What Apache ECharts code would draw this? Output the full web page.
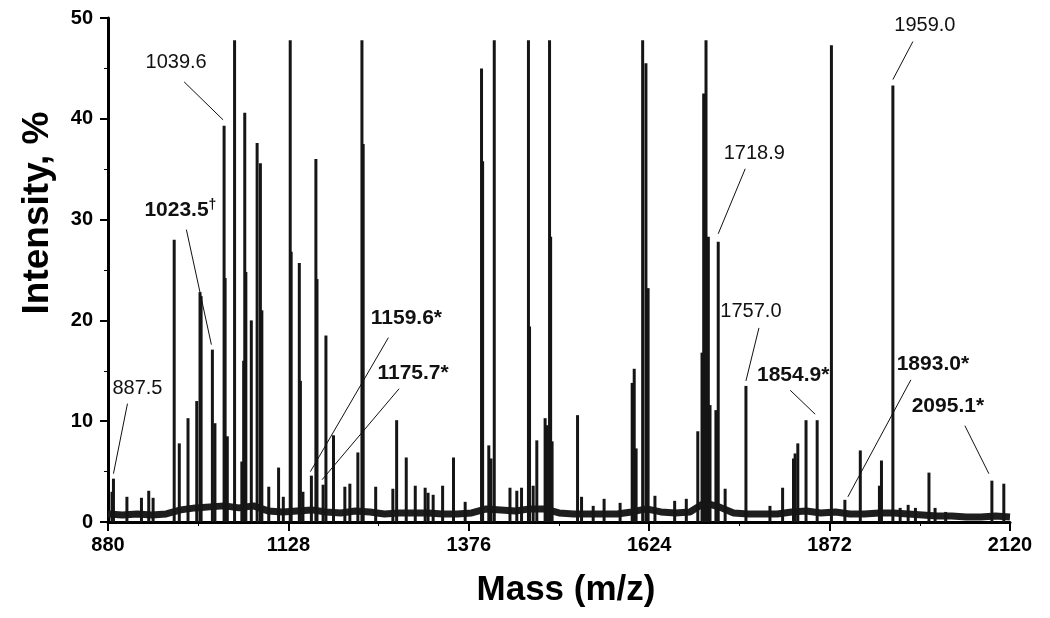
<!DOCTYPE html>
<html><head><meta charset="utf-8">
<script src="https://cdn.jsdelivr.net/npm/echarts@6/dist/echarts.min.js"></script>
<style>html,body{margin:0;padding:0;background:#fff}#c{width:1050px;height:618px}</style>
</head><body><div id="c"></div>
<script>
// ---- tick labels ----
const massTicks = [880, 1128, 1376, 1624, 1872, 2120];
const intensityTicks = [0, 10, 20, 30, 40, 50];

// ---- peaks (m/z, intensity %) ----
const peakMass = [
  885.5, 887.5, 906, 926, 936, 942, 971, 978, 990, 1002, 1006.5, 1008, 1023.5, 1027,
  1039.6, 1041, 1044, 1054, 1064, 1066.5, 1068, 1069.5, 1077, 1085, 1089.5, 1091.5,
  1101, 1114.5, 1121, 1130.5, 1131.8, 1143, 1144.5, 1148, 1159.6, 1165.8, 1167.3,
  1175.7, 1179.6, 1190, 1205.6, 1212.5, 1223.5, 1229.1, 1230.8, 1248, 1271.6, 1276.8,
  1290, 1302.4, 1316, 1320, 1327, 1340, 1355, 1371, 1393.5, 1395, 1403.5, 1406.5,
  1411, 1432.6, 1442, 1448.5, 1458, 1459.5, 1464.5, 1469.5, 1480.9, 1483.6, 1487,
  1488.5, 1490.5, 1525.5, 1531, 1547, 1562, 1584, 1600.6, 1603.4, 1606, 1615, 1619.5,
  1622.5, 1631.9, 1659, 1675, 1690.8, 1696.6, 1698.9, 1702.1, 1705.3, 1707.6, 1715.7,
  1718.9, 1728.4, 1757.0, 1790, 1807.4, 1822.4, 1824.6, 1828.3, 1839.6, 1854.9, 1874.5,
  1893.0, 1914.2, 1940.5, 1943.3, 1959.0, 1969, 1980, 1990, 2008.6, 2017, 2031.6,
  2095.1, 2111.5
];
const peakIntensity = [
  3.0, 4.3, 2.5, 2.4, 3.1, 2.4, 28.0, 7.8, 10.3, 12.0, 22.8, 22.4, 17.1, 9.8,
  39.3, 24.2, 8.5, 47.8, 6.0, 16.0, 40.6, 24.8, 20.0, 37.6, 35.6, 21.0,
  3.5, 5.4, 2.5, 47.8, 26.8, 25.7, 14.0, 3.0, 4.6, 36.0, 24.1,
  3.7, 18.5, 8.6, 3.5, 3.8, 6.9, 47.8, 37.5, 3.5, 3.3, 10.1,
  6.4, 3.6, 3.4, 2.9, 2.7, 3.6, 6.4, 2.0, 45.0, 35.8, 7.6, 6.3,
  47.8, 3.4, 3.1, 3.4, 47.8, 19.4, 3.6, 8.1, 10.3, 9.6, 47.8,
  28.3, 8.0, 10.6, 2.5, 1.6, 2.3, 1.9, 13.8, 15.2, 7.3, 47.8, 45.5,
  23.2, 2.6, 2.1, 2.3, 9.0, 16.8, 42.5, 47.8, 28.3, 11.6, 11.1,
  27.8, 3.3, 13.5, 1.6, 3.4, 6.3, 6.8, 7.8, 10.1, 10.1, 47.3,
  2.2, 7.1, 3.6, 6.1, 43.3, 1.4, 1.7, 1.4, 4.9, 1.4, 1.0,
  4.1, 3.8
];

// ---- baseline noise level (m/z, intensity %) ----
const baselineMass = [
  880, 900, 920, 940, 960, 980, 1000, 1020, 1040, 1060, 1080, 1100, 1120, 1140, 1160,
  1180, 1200, 1220, 1240, 1260, 1280, 1300, 1320, 1340, 1360, 1380, 1400, 1420, 1440,
  1460, 1480, 1500, 1520, 1540, 1560, 1580, 1600, 1620, 1640, 1660, 1680, 1700, 1720,
  1740, 1760, 1780, 1800, 1820, 1840, 1860, 1880, 1900, 1920, 1940, 1960, 1980, 2000,
  2020, 2040, 2060, 2080, 2100, 2120
];
const baselineLevel = [
  0.8, 0.7, 0.8, 0.7, 0.8, 1.2, 1.4, 1.5, 1.6, 1.4, 1.6, 1.1, 1.0, 1.1, 1.2,
  1.0, 0.9, 1.1, 1.0, 0.8, 0.9, 0.9, 0.9, 0.8, 0.8, 0.9, 1.3, 1.2, 1.1,
  1.3, 1.3, 0.9, 0.8, 0.8, 0.8, 0.8, 1.0, 1.3, 1.0, 0.9, 1.0, 1.9, 1.5,
  0.9, 0.8, 0.8, 0.8, 1.0, 1.1, 0.9, 1.0, 0.8, 0.8, 0.9, 0.9, 0.8, 0.7,
  0.6, 0.6, 0.5, 0.5, 0.6, 0.5
];

// ---- annotated peaks ----
const labelText = ['887.5', '1039.6', '1023.5', '1159.6*', '1175.7*', '1718.9', '1757.0', '1854.9*', '1893.0*', '2095.1*', '1959.0'];
const labelMass = [887.5, 1039.6, 1023.5, 1159.6, 1175.7, 1718.9, 1757.0, 1854.9, 1893.0, 2095.1, 1959.0];
const labelIntensity = [4.3, 39.3, 17.1, 4.6, 3.7, 27.8, 13.5, 10.1, 2.2, 4.1, 43.3];

// layout of labels (pixel offsets from the peak top): text centre, leader start, leader end
const labelLayout = [
  {t: [24, -90], s: [0, -5], e: [14, -75], bold: false},
  {t: [-48, -63], s: [-1, -6], e: [-40, -44], bold: false},
  {t: [-68, -139], s: [-1, -5], e: [-26, -120], bold: true, dagger: true},
  {t: [95, -157], s: [-1, -4], e: [77, -138], bold: true},
  {t: [90, -112], s: [-1, -5], e: [76, -96], bold: true},
  {t: [36, -88], s: [0, -8], e: [27, -73], bold: false},
  {t: [5, -74], s: [0, -5], e: [13, -58], bold: false},
  {t: [-24, -45], s: [-2, -6], e: [-27, -30], bold: true},
  {t: [88, -136], s: [3, -3], e: [66, -120], bold: true},
  {t: [-44, -74], s: [-3, -7], e: [-27, -55], bold: true},
  {t: [32, -60], s: [0, -6], e: [20, -44], bold: false}
];

const FONT = "'Liberation Sans', Arial, Helvetica, sans-serif";
const x0 = massTicks[0];
const xSpan = massTicks[massTicks.length - 1] - x0;
const xStep = massTicks[1] - x0;

const chart = echarts.init(document.getElementById('c'), null, {renderer: 'canvas'});
chart.setOption({
  animation: false,
  backgroundColor: '#fff',
  grid: {left: 108, right: 40, top: 18, bottom: 96, containLabel: false},
  xAxis: {
    type: 'value', min: 0, max: xSpan, interval: xStep,
    axisLine: {show: true, onZero: false, lineStyle: {color: '#000', width: 3}},
    axisTick: {show: true, length: 9, lineStyle: {color: '#000', width: 2}},
    minorTick: {show: true, splitNumber: 2, length: 4, lineStyle: {color: '#000', width: 1}},
    splitLine: {show: false},
    axisLabel: {
      formatter: (v, i) => String(massTicks[i] !== undefined ? massTicks[i] : v + x0),
      color: '#000', fontSize: 20, fontWeight: 'bold', fontFamily: FONT, margin: 13
    },
    name: 'Mass (m/z)', nameLocation: 'middle', nameGap: 51,
    nameTextStyle: {fontSize: 35, fontWeight: 'bold', color: '#000', fontFamily: FONT, padding: [0, 0, 0, 14]}
  },
  yAxis: {
    type: 'value', min: intensityTicks[0], max: intensityTicks[intensityTicks.length - 1],
    interval: intensityTicks[1] - intensityTicks[0],
    axisLine: {show: true, lineStyle: {color: '#000', width: 3}},
    axisTick: {show: true, length: 8, lineStyle: {color: '#000', width: 2}},
    minorTick: {show: true, splitNumber: 2, length: 4, lineStyle: {color: '#000', width: 1}},
    splitLine: {show: false},
    axisLabel: {color: '#000', fontSize: 20, fontWeight: 'bold', fontFamily: FONT, margin: 15}
  },
  series: [
    {
      type: 'line', name: 'baseline', symbol: 'none', z: 2,
      lineStyle: {color: '#1e1e1e', width: 7},
      data: baselineMass.map((m, i) => [m - x0, baselineLevel[i]])
    },
    {
      type: 'bar', name: 'peaks', barWidth: 3, z: 3,
      itemStyle: {color: '#151515'},
      data: peakMass.map((m, i) => [m - x0, peakIntensity[i]])
    }
  ]
});

const gfx = [{
  type: 'text', x: 38, y: 213, rotation: Math.PI / 2, z: 20,
  style: {text: 'Intensity, %', fontSize: 37, fontWeight: 'bold', fontFamily: FONT, fill: '#000', align: 'center', verticalAlign: 'middle'}
}];
labelText.forEach((t, i) => {
  const p = chart.convertToPixel({gridIndex: 0}, [labelMass[i] - x0, labelIntensity[i]]);
  const L = labelLayout[i];
  gfx.push({
    type: 'line', z: 20,
    shape: {x1: p[0] + L.s[0], y1: p[1] + L.s[1], x2: p[0] + L.e[0], y2: p[1] + L.e[1]},
    style: {stroke: '#111', lineWidth: 1}
  });
  if (L.dagger) {
    gfx.push({
      type: 'text', z: 20, x: p[0] + L.t[0], y: p[1] + L.t[1],
      style: {
        text: '{a|' + t + '}{b|\u2020}', align: 'left', verticalAlign: 'middle',
        rich: {
          a: {fontSize: 21, fontWeight: 'bold', fontFamily: FONT, fill: '#111', lineHeight: 24},
          b: {fontSize: 14, fontWeight: 'bold', fontFamily: FONT, fill: '#111', verticalAlign: 'top', lineHeight: 24}
        }
      }
    });
  } else {
    gfx.push({
      type: 'text', z: 20, x: p[0] + L.t[0], y: p[1] + L.t[1],
      style: {
        text: t, fontSize: L.bold ? 21 : 20, fontWeight: L.bold ? 'bold' : 'normal',
        fontFamily: FONT, fill: '#111', align: 'center', verticalAlign: 'middle'
      }
    });
  }
});
chart.setOption({graphic: gfx});
</script>
</body></html>
